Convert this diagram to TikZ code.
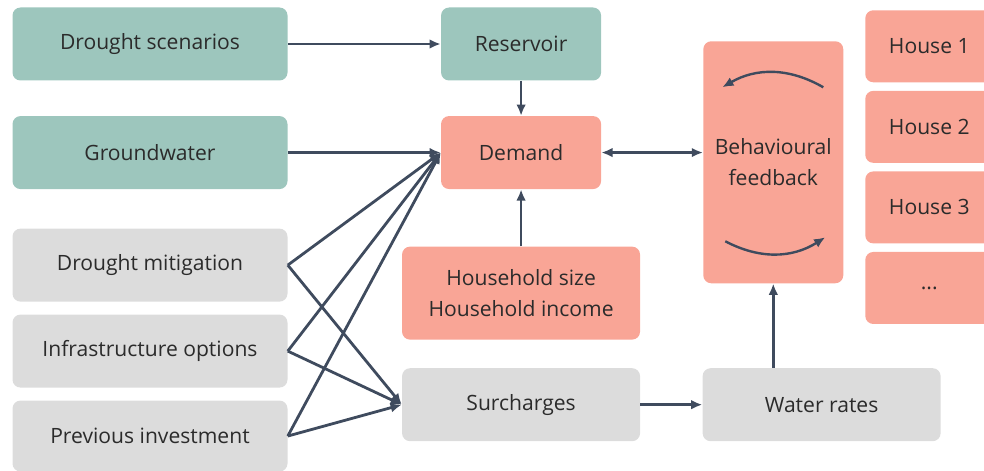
\documentclass[tikz,border=0pt]{standalone}
\usepackage{fontspec}
\setmainfont{Open Sans}
\usepackage{tikz}
\usetikzlibrary{arrows.meta,positioning,calc}
\definecolor{DrTeal}{HTML}{9DC6BD}
\definecolor{DrSalmon}{HTML}{F9A596}
\definecolor{DrGray}{HTML}{DCDCDC}
\definecolor{DrInk}{HTML}{3F4B5E}
\definecolor{DrText}{HTML}{2B2B2B}

\begin{document}
\begin{tikzpicture}[node distance=8.75mm and 38.25mm, every node/.style={font=\fontsize{15}{22}\selectfont,text=DrText}, b/.style={rounded corners=2mm,align=center,minimum height=18.25mm,minimum width=40mm,inner sep=0pt}, wide/.style={b,minimum width=68.75mm}, hs/.style={b,fill=DrSalmon,minimum width=32mm,minimum height=18mm}, a/.style={-{Latex[length=2.8mm,width=2.4mm]},line width=0.7mm,DrInk}]
\useasboundingbox (0,0) rectangle (246mm,-117.5mm);
\node[wide,fill=DrTeal] (ds) at (37.5mm,-11mm) {Drought scenarios};
\node[wide,fill=DrTeal,below=of ds] (gw) {Groundwater};
\node[wide,fill=DrGray,below=9.75mm of gw] (dm) {Drought mitigation};
\node[wide,fill=DrGray,below=3.1mm of dm] (io) {Infrastructure options};
\node[wide,fill=DrGray,below=3.1mm of io,minimum height=17.75mm] (pi) {Previous investment};
\node[b,fill=DrTeal,right=of ds] (res) {Reservoir};
\node[b,fill=DrSalmon,below=of res] (dem) {Demand};
\node[b,fill=DrSalmon,below=14.25mm of dem,minimum width=59.5mm,minimum height=23.25mm] (hh) {Household size\\Household income};
\node[b,fill=DrGray,below=7mm of hh,minimum width=59.5mm] (sur) {Surcharges};
\node[b,fill=DrGray,right=15.5mm of sur,minimum width=59.5mm] (wr) {Water rates};
\node[b,fill=DrSalmon,minimum width=35mm,minimum height=60.5mm,anchor=north west] (beh) at (175.75mm,-10.25mm) {Behavioural\\feedback};
\node[hs,anchor=north west] (h1) at (216.25mm,-2.5mm) {House 1};
\node[hs,below=2mm of h1] (h2) {House 2};
\node[hs,below=2mm of h2] (h3) {House 3};
\node[hs,below=2mm of h3] (h4) {...};
\draw[a] (ds) -- (res);
\draw[a] (res) -- (dem);
\draw[a] (gw) -- (dem);
\draw[a] (hh) -- (dem);
\draw[a,{Latex[length=2.8mm,width=2.4mm]}-{Latex[length=2.8mm,width=2.4mm]}] (dem.east) -- (dem.east -| beh.west);
\draw[a] (sur) -- (wr);
\draw[a] (wr.north -| beh.south) -- (beh.south);
\foreach \n in {dm,io,pi} {
  \draw[a] (\n.east) -- (dem.west);
  \draw[a] (\n.east) -- (sur.west);
}
% loop arrows in the feedback box
\draw[a,line width=0.6mm] ($(beh.center)+(12.5mm,18.75mm)$) to[bend right=30] ($(beh.center)+(-12.75mm,18.75mm)$);
\draw[a,line width=0.6mm] ($(beh.center)+(-12mm,-19.75mm)$) to[bend right=30] ($(beh.center)+(13mm,-18.75mm)$);
\end{tikzpicture}
\end{document}
